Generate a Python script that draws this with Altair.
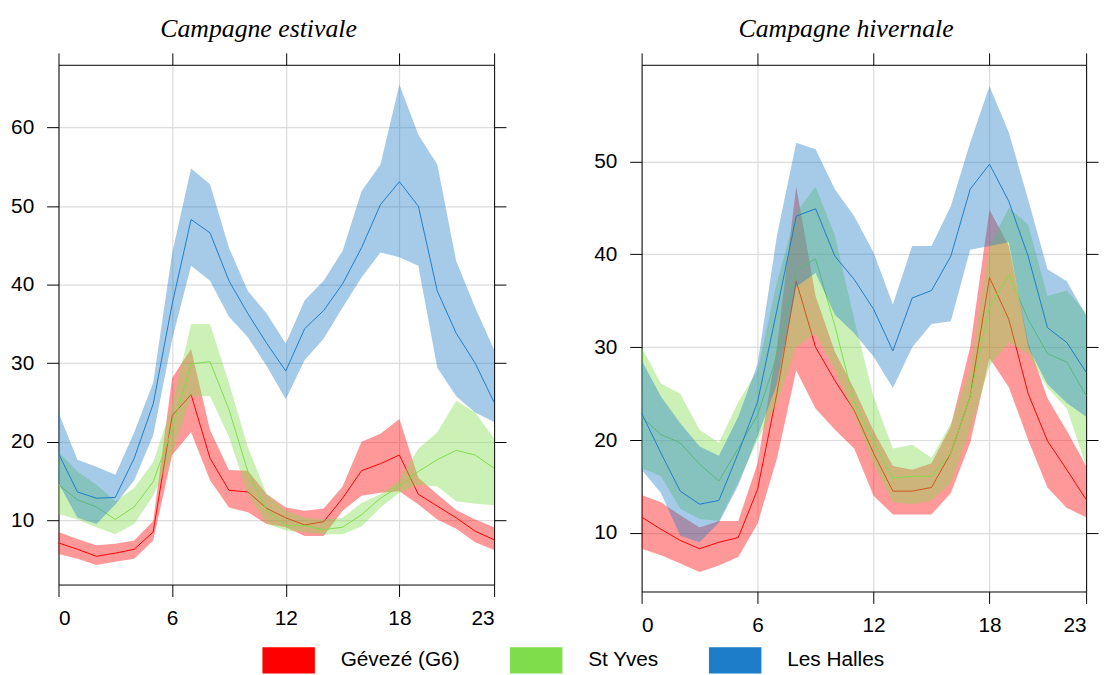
import altair as alt
import pandas as pd

hours = list(range(24))
stations = ["Gévezé (G6)", "St Yves", "Les Halles"]
colors = ["#FF0000", "#7FDD4C", "#1E7DC8"]
x_ticks = [0, 6, 12, 18, 23]

# ---- Campagne estivale (summer) ----
g_s_mid = [7.1, 6.3, 5.4, 5.8, 6.3, 8.5, 23.3, 26.0, 17.9, 13.8, 13.6, 11.5, 10.3, 9.4, 9.8, 12.8, 16.3, 17.2, 18.3, 13.3, 11.8, 10.3, 8.6, 7.5]
g_s_lo = [5.7, 5.1, 4.3, 4.7, 5.1, 7.4, 18.3, 21.2, 15.1, 11.6, 11.0, 9.5, 9.1, 8.0, 8.0, 11.2, 13.1, 13.5, 13.7, 12.0, 10.1, 8.9, 7.2, 6.2]
g_s_hi = [8.5, 7.6, 6.8, 7.0, 7.4, 9.9, 28.1, 31.8, 21.5, 16.4, 16.3, 13.3, 11.6, 11.2, 11.5, 14.3, 20.0, 21.0, 22.9, 15.4, 13.3, 11.3, 10.1, 9.1]

s_s_mid = [14.5, 12.6, 11.7, 10.1, 11.7, 14.9, 21.6, 29.9, 30.2, 24.1, 16.2, 11.2, 9.3, 9.3, 8.8, 9.1, 10.7, 12.8, 14.3, 16.2, 17.7, 18.9, 18.3, 16.6]
s_s_lo = [10.8, 10.1, 9.1, 8.2, 9.5, 13.1, 18.3, 25.8, 25.8, 20.6, 13.3, 9.5, 8.7, 8.5, 8.2, 8.2, 9.2, 11.6, 13.5, 14.5, 14.3, 12.4, 12.1, 11.9]
s_s_hi = [18.7, 16.2, 14.5, 12.4, 14.1, 17.4, 24.6, 35.0, 35.0, 27.5, 19.3, 13.3, 11.2, 10.3, 10.1, 10.3, 12.2, 13.3, 15.1, 19.1, 21.2, 25.2, 23.7, 20.4]

h_s_mid = [18.5, 13.6, 12.8, 12.9, 17.9, 24.8, 37.5, 48.3, 46.6, 40.5, 36.3, 32.5, 29.0, 34.4, 36.7, 40.1, 44.7, 50.2, 53.1, 50.0, 39.2, 33.8, 30.0, 25.0]
h_s_lo = [14.7, 10.3, 9.5, 12.0, 15.1, 20.8, 33.0, 42.4, 40.5, 35.9, 33.3, 29.6, 25.4, 30.4, 33.1, 37.1, 40.9, 44.1, 43.5, 42.4, 29.4, 25.8, 23.7, 22.5]
h_s_hi = [23.7, 17.7, 16.8, 15.8, 21.2, 27.5, 44.0, 54.8, 52.8, 44.7, 39.2, 36.3, 32.5, 38.0, 40.5, 44.3, 51.9, 55.3, 65.5, 59.1, 55.3, 43.0, 37.1, 31.7]

# ---- Campagne hivernale (winter) ----
g_w_mid = [11.7, 10.4, 9.2, 8.3, 9.0, 9.5, 14.7, 25.0, 37.1, 30.0, 26.4, 23.2, 18.6, 14.5, 14.5, 14.9, 18.6, 24.7, 37.5, 33.0, 25.0, 19.9, 16.8, 13.6]
g_w_lo = [8.3, 7.6, 6.7, 5.8, 6.5, 7.4, 11.0, 18.0, 27.5, 23.4, 21.1, 19.1, 14.0, 12.0, 12.0, 12.0, 14.3, 19.7, 28.8, 25.7, 20.0, 14.9, 12.7, 11.7]
g_w_hi = [14.1, 13.3, 11.9, 10.6, 11.3, 11.3, 17.5, 30.0, 47.3, 35.5, 29.5, 25.5, 21.0, 17.2, 16.8, 17.5, 21.5, 30.0, 44.8, 40.9, 30.5, 24.5, 21.0, 17.2]

s_w_mid = [22.5, 20.6, 19.7, 17.4, 15.6, 19.1, 22.7, 29.0, 38.3, 39.5, 32.3, 24.1, 19.9, 15.9, 16.1, 16.1, 18.6, 24.7, 34.3, 37.8, 33.0, 29.3, 28.4, 24.8]
s_w_lo = [17.0, 16.1, 12.6, 11.5, 11.3, 15.5, 20.0, 24.0, 30.0, 31.5, 27.5, 22.7, 17.5, 13.3, 13.1, 13.5, 15.4, 21.1, 28.0, 30.5, 29.3, 25.6, 23.4, 17.2]
s_w_hi = [30.0, 26.1, 25.0, 21.1, 19.7, 24.1, 27.5, 37.0, 44.5, 47.3, 42.0, 33.0, 24.7, 19.1, 19.5, 18.1, 21.8, 27.5, 40.9, 45.0, 43.2, 35.5, 36.1, 33.7]

h_w_mid = [22.9, 18.6, 14.5, 13.1, 13.5, 18.6, 24.1, 34.0, 44.1, 44.9, 39.8, 37.3, 34.1, 29.6, 35.3, 36.1, 39.8, 47.0, 49.7, 45.7, 39.8, 32.1, 30.5, 27.3]
h_w_lo = [16.8, 14.3, 9.7, 9.0, 11.1, 15.1, 20.4, 26.0, 36.5, 38.0, 33.5, 31.5, 29.0, 25.6, 30.0, 32.5, 32.8, 40.5, 40.9, 41.3, 30.0, 26.0, 24.0, 22.5]
h_w_hi = [28.6, 24.7, 21.8, 19.3, 18.3, 22.5, 28.2, 42.0, 52.0, 51.3, 47.0, 44.1, 40.2, 34.6, 40.9, 40.9, 45.2, 52.0, 58.1, 53.1, 45.9, 38.4, 37.1, 33.4]


def make_df(mids, los, his):
    rows = []
    for st, m, l, h in zip(stations, mids, los, his):
        for hr, a, b, c in zip(hours, m, l, h):
            rows.append({"station": st, "hour": hr, "mid": a, "lo": b, "hi": c})
    return pd.DataFrame(rows)


df_s = make_df([g_s_mid, s_s_mid, h_s_mid], [g_s_lo, s_s_lo, h_s_lo], [g_s_hi, s_s_hi, h_s_hi])
df_w = make_df([g_w_mid, s_w_mid, h_w_mid], [g_w_lo, s_w_lo, h_w_lo], [g_w_hi, s_w_hi, h_w_hi])

color_scale = alt.Scale(domain=stations, range=colors)

legend = alt.Legend(
    title=None, orient="none", legendX=206, legendY=575, direction="horizontal",
    symbolType="M-1,-0.5H1V0.5H-1Z", symbolSize=2809, symbolOpacity=1,
    symbolStrokeWidth=0, labelFontSize=21, labelFont="Liberation Sans",
    labelColor="black", labelOffset=26, columnPadding=50, padding=0,
)

axis_common = dict(
    title=None, tickSize=12, tickColor="black", tickWidth=1, domainColor="black",
    domainWidth=1, labelFontSize=21, labelFont="Liberation Sans", labelColor="black",
    gridColor="#dcdcdc", gridWidth=1.2,
)


def panel(df, title, ydom, yticks, w, h, with_legend):
    xs = alt.Scale(domain=[0, 23], nice=False, zero=False)
    ys = alt.Scale(domain=ydom, nice=False, zero=False)
    ax_b = alt.Axis(orient="bottom", values=x_ticks, grid=True, labelPadding=11, **axis_common)
    ax_t = alt.Axis(orient="top", values=x_ticks, labels=False, grid=False, **axis_common)
    ax_l = alt.Axis(orient="left", values=yticks, grid=True, labelPadding=13, **axis_common)
    ax_r = alt.Axis(orient="right", values=yticks, labels=False, grid=False, **axis_common)
    layers = []
    for i, st in enumerate(stations):
        sub = alt.Chart(df).transform_filter(alt.datum.station == st)
        if i == 0:
            xa, ya = ax_b, ax_l
        elif i == 1:
            xa, ya = ax_t, ax_r
        else:
            xa, ya = None, None
        band = sub.mark_area(opacity=0.4).encode(
            x=alt.X("hour:Q", scale=xs, axis=xa),
            y=alt.Y("lo:Q", scale=ys, axis=ya),
            y2="hi:Q",
            color=alt.Color("station:N", scale=color_scale,
                            legend=legend if (with_legend and i == 0) else None),
        )
        line = sub.mark_line(strokeWidth=1).encode(
            x=alt.X("hour:Q", scale=xs, axis=None),
            y=alt.Y("mid:Q", scale=ys, axis=None),
            color=alt.Color("station:N", scale=color_scale, legend=None),
        )
        layers += [band, line]
    return alt.layer(*layers).resolve_axis(x="independent", y="independent").properties(
        width=w, height=h,
        title=alt.Title(title, font="Liberation Serif", fontStyle="italic", fontSize=26,
                        fontWeight="normal", color="black", anchor="middle", frame="bounds",
                        baseline="alphabetic", offset=-10),
    )


left = panel(df_s, "Campagne estivale", [1.8, 68.0], [10, 20, 30, 40, 50, 60], 440, 525, True)
right = panel(df_w, "Campagne hivernale", [3.7, 60.4], [10, 20, 30, 40, 50], 449, 532, False)

chart = alt.hconcat(left, right, spacing=87).properties(
    padding={"left": 2, "top": 4, "right": 0, "bottom": 0}
).configure_view(stroke=None)

chart.save("out.html", embed_options={"renderer": "svg", "actions": False})
